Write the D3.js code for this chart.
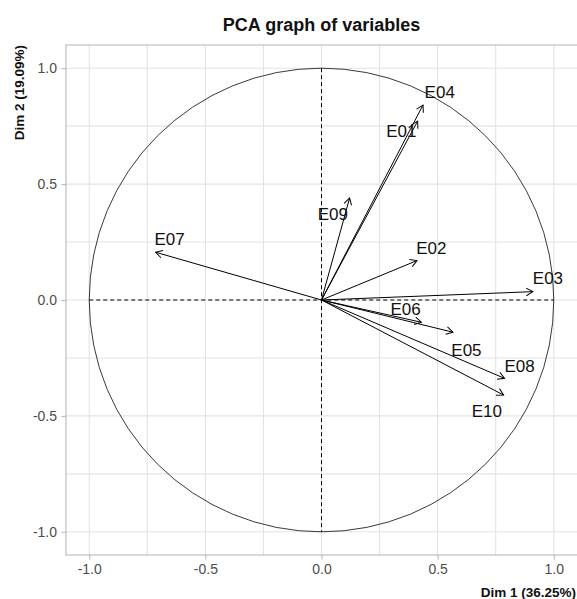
<!DOCTYPE html>
<html>
  <head>
    <meta charset="utf-8">
    <script src="https://cdnjs.cloudflare.com/ajax/libs/d3/7.8.5/d3.min.js"></script>
    <style type="text/css">
    body { margin: 0; background: white; }
    svg { font-family: "Liberation Sans", Arial, sans-serif; }
    .grid line { stroke: #e3e3e3; stroke-width: 1.1; }
    .axis path { display: none; }
    .axis line { stroke: #b3b3b3; }
    .axis text { fill: #4d4d4d; font-size: 14px; }
    .vlabel { fill: #111; font-size: 17px; }
    </style>
  </head>
  <body>
    <script type="text/javascript">
      // variables and their coordinates on Dim 1 / Dim 2
      var variables = ["E01", "E02", "E03", "E04", "E05", "E06", "E07", "E08", "E09", "E10"];
      var dim1 = [0.414, 0.411, 0.910, 0.437, 0.566, 0.430, -0.714, 0.788, 0.121, 0.784];
      var dim2 = [0.772, 0.170, 0.036, 0.841, -0.139, -0.096, 0.206, -0.338, 0.440, -0.410];
      // where the text labels sit (data units)
      var labelDim1 = [0.344, 0.473, 0.975, 0.509, 0.624, 0.362, -0.654, 0.853, 0.049, 0.712];
      var labelDim2 = [0.726, 0.223, 0.091, 0.893, -0.216, -0.043, 0.259, -0.288, 0.367, -0.482];
      var tickValues = [-1, -0.5, 0, 0.5, 1];
      var minorValues = [-0.75, -0.25, 0.25, 0.75];

      var w = 577;
      var h = 599;
      var margin = {top: 45, left: 66, width: 511, height: 510};

      var data = variables.map(function(v, i) {
        return {name: v, x: dim1[i], y: dim2[i], lx: labelDim1[i], ly: labelDim2[i]};
      });

      var svg = d3.select("body")
                  .append("svg")
                  .attr("width", w)
                  .attr("height", h);

      var xScale = d3.scaleLinear()
                     .domain([-1.1, 1.1])
                     .range([margin.left, margin.left + margin.width]);
      var yScale = d3.scaleLinear()
                     .domain([-1.1, 1.1])
                     .range([margin.top + margin.height, margin.top]);

      // arrow head
      svg.append("defs").append("marker")
         .attr("id", "head")
         .attr("viewBox", "-10 -10 20 20")
         .attr("refX", 0)
         .attr("refY", 0)
         .attr("markerWidth", 20)
         .attr("markerHeight", 20)
         .attr("markerUnits", "userSpaceOnUse")
         .attr("orient", "auto")
         .append("path")
           .attr("d", "M-6.6,-3.8L0,0L-6.6,3.8")
           .attr("fill", "none")
           .attr("stroke", "black")
           .attr("stroke-width", 1);

      // grid
      var grid = svg.append("g").attr("class", "grid");
      var allGrid = tickValues.concat(minorValues);
      grid.selectAll(".gx").data(allGrid).enter().append("line")
          .attr("x1", function(d) { return xScale(d); })
          .attr("x2", function(d) { return xScale(d); })
          .attr("y1", margin.top)
          .attr("y2", margin.top + margin.height);
      grid.selectAll(".gy").data(allGrid).enter().append("line")
          .attr("y1", function(d) { return yScale(d); })
          .attr("y2", function(d) { return yScale(d); })
          .attr("x1", margin.left)
          .attr("x2", margin.left + margin.width);

      // panel border
      svg.append("rect")
         .attr("x", margin.left)
         .attr("y", margin.top)
         .attr("width", margin.width + 5)
         .attr("height", margin.height)
         .attr("fill", "none")
         .attr("stroke", "#b8b8b8")
         .attr("stroke-width", 1.1);

      // axes (plain hyphen for negatives, like the original)
      var fmt = function(d) { return d.toFixed(1); };
      svg.append("g")
         .attr("class", "axis")
         .attr("transform", "translate(0," + (margin.top + margin.height) + ")")
         .call(d3.axisBottom(xScale).tickValues(tickValues).tickFormat(fmt).tickSize(4.5).tickPadding(4.5));
      svg.append("g")
         .attr("class", "axis")
         .attr("transform", "translate(" + margin.left + ",0)")
         .call(d3.axisLeft(yScale).tickValues(tickValues).tickFormat(fmt).tickSize(4.5).tickPadding(4.5));

      // correlation circle
      svg.append("ellipse")
         .attr("cx", xScale(0))
         .attr("cy", yScale(0))
         .attr("rx", xScale(1) - xScale(0))
         .attr("ry", yScale(0) - yScale(1))
         .attr("fill", "none")
         .attr("stroke", "#222")
         .attr("stroke-width", 0.9);

      // dashed zero lines
      svg.append("line")
         .attr("x1", xScale(-1)).attr("x2", xScale(1))
         .attr("y1", yScale(0)).attr("y2", yScale(0))
         .attr("stroke", "black").attr("stroke-dasharray", "4,3");
      svg.append("line")
         .attr("x1", xScale(0)).attr("x2", xScale(0))
         .attr("y1", yScale(1)).attr("y2", yScale(-1))
         .attr("stroke", "black").attr("stroke-dasharray", "4,3");

      // arrows
      svg.selectAll(".arrow")
         .data(data)
         .enter()
         .append("line")
           .attr("class", "arrow")
           .attr("x1", xScale(0))
           .attr("y1", yScale(0))
           .attr("x2", function(d) { return xScale(d.x); })
           .attr("y2", function(d) { return yScale(d.y); })
           .attr("stroke", "black")
           .attr("stroke-width", 1)
           .attr("marker-end", "url(#head)");

      // labels
      svg.selectAll(".vlabel")
         .data(data)
         .enter()
         .append("text")
           .attr("class", "vlabel")
           .attr("x", function(d) { return xScale(d.lx); })
           .attr("y", function(d) { return yScale(d.ly); })
           .attr("text-anchor", "middle")
           .attr("dominant-baseline", "central")
           .text(function(d) { return d.name; });

      // titles
      svg.append("text")
         .attr("x", margin.left + margin.width / 2)
         .attr("y", 31)
         .attr("text-anchor", "middle")
         .style("font-size", "18px")
         .style("font-weight", "bold")
         .style("fill", "#111")
         .text("PCA graph of variables");
      svg.append("text")
         .attr("x", 576)
         .attr("y", 597)
         .attr("text-anchor", "end")
         .style("font-size", "13.5px")
         .style("font-weight", "bold")
         .style("fill", "#111")
         .text("Dim 1 (36.25%)");
      svg.append("text")
         .attr("transform", "translate(24," + margin.top + ") rotate(-90)")
         .attr("text-anchor", "end")
         .style("font-size", "13.5px")
         .style("font-weight", "bold")
         .style("fill", "#111")
         .text("Dim 2 (19.09%)");
    </script>
  </body>
</html>
